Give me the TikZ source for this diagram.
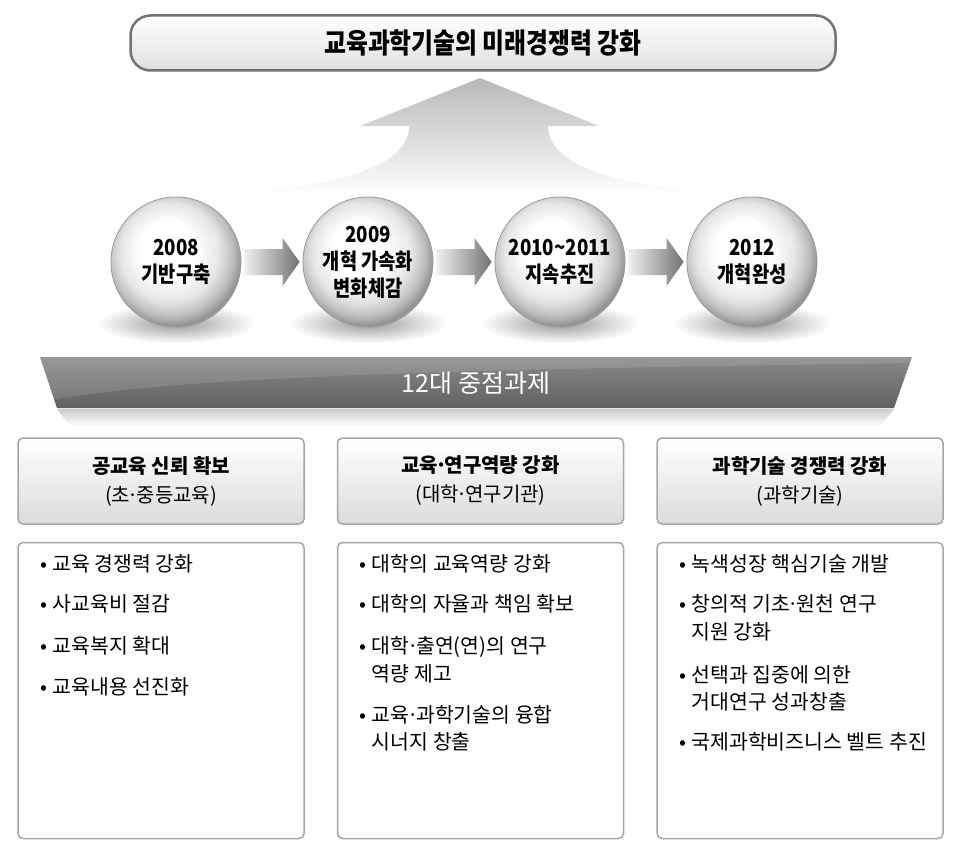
\documentclass[tikz,border=0pt]{standalone}
\usepackage{fontspec}
\setmainfont{Noto Sans CJK KR}
\newfontfamily\condfont[FakeStretch=0.85]{Noto Sans CJK KR}
\usepackage{tikz}
\usetikzlibrary{positioning}
\usetikzlibrary{calc}
\usetikzlibrary{backgrounds}

\pgfdeclareradialshading{sphere}{\pgfpoint{-4bp}{6bp}}{color(0bp)=(white); color(11bp)=(white); color(19bp)=(black!10); color(24bp)=(black!26); color(27bp)=(black!42); color(50bp)=(black!42)}

\newcommand{\flowarrow}[2]{%
  \shade[left color=black!6, right color=black!55]
    ($(#1.east)+(3,-13)$) -- ($(#2.west)+(-20,-13)$) -- ($(#2.west)+(-20,-24)$)
    -- ($(#2.west)+(-3,0)$) -- ($(#2.west)+(-20,24)$) -- ($(#2.west)+(-20,13)$)
    -- ($(#1.east)+(3,13)$) -- cycle;}
\newcommand{\bul}{\makebox[12pt][l]{•}}
\newcommand{\md}{\makebox[.32em][c]{·}}

\begin{document}
\begin{tikzpicture} [
    x=1pt, y=-1pt,                 % pixel grid, y going down
    node distance=17pt and 32pt,   % spacing of the boxes
    ]
% -------------------------------------------------
\tikzset{
  goalbox/.style={draw=black!55, line width=2.5pt, rounded corners=20pt, top color=white, bottom color=black!12, minimum width=705pt, minimum height=55pt, font=\condfont\fontsize{28}{30}\selectfont\bfseries},
  orbnode/.style={circle, on grid, shade, shading=sphere, draw=black!40, line width=0.8pt, minimum size=130pt, inner sep=0pt, align=center, font=\condfont\fontsize{22}{27}\selectfont\bfseries},
  headbox/.style={draw=black!35, line width=1.5pt, rounded corners=5pt, top color=white, bottom color=black!14, minimum width=286pt, minimum height=86pt, align=center, font=\fontsize{20}{29}\selectfont},
  listbox/.style={draw=black!35, line width=1.5pt, rounded corners=5pt, fill=white, minimum width=286pt, minimum height=296pt},
  itemtext/.style={anchor=west, inner sep=0pt, text height=.88em, text depth=.12em, font=\fontsize{20.5}{22}\selectfont},
  bandtext/.style={text=white, font=\fontsize{25}{28}\selectfont},
}
    \useasboundingbox (0,0) rectangle (959,843);

    \node [goalbox] (goal) at (483,43) {교육과학기술의 미래경쟁력 강화};

    % big arrow up to the goal
    \shade [top color=black!28, bottom color=white] (480,78) -- (599,126) -- (548,126)
      .. controls (548,172) and (640,190) .. (757,194) -- (197,194)
      .. controls (320,190) and (409,172) .. (409,126) -- (360,126) -- cycle;

    \node [orbnode] (y2008) at (176,262) {2008\\기반구축};
    \node [orbnode, right=192pt of y2008] (y2009) {2009\\개혁 가속화\\변화체감};
    \node [orbnode, right=192pt of y2009] (y2010) {2010\textasciitilde 2011\\지속추진};
    \node [orbnode, right=192pt of y2010] (y2012) {2012\\개혁완성};

    \begin{pgfonlayer}{background}
      \foreach \n in {y2008,y2009,y2010,y2012}
        \shade [inner color=black!40, outer color=white] ($(\n.south)+(0,-4)$) ellipse [x radius=80, y radius=20];
    \end{pgfonlayer}

    \flowarrow{y2008}{y2009}
    \flowarrow{y2009}{y2010}
    \flowarrow{y2010}{y2012}

    % band of the twelve tasks
    \shade [top color=black!20, bottom color=white] (57,409) -- (894,409) -- (880,426) -- (70,426) -- cycle;
    \shade [top color=black!46, bottom color=black!62] (40,357) -- (912,357) -- (894,408) -- (57,408) -- cycle;
    \fill [white, opacity=0.12] (40,357) -- (912,357) -- (910,363) .. controls (600,368) and (200,372) .. (52,400) -- cycle;
    \node [bandtext] (tasks) at (476,383) {12대 중점과제};

    \node [headbox] (h1) at (161,481) {\textbf{공교육 신뢰 확보}\\(초\md 중등교육)};
    \node [headbox, right=of h1] (h2) {\textbf{교육\md 연구역량 강화}\\(대학\md 연구기관)};
    \node [headbox, right=of h2] (h3) {\textbf{과학기술 경쟁력 강화}\\(과학기술)};

    \node [listbox, below=of h1] (b1) {};
    \node [listbox, below=of h2] (b2) {};
    \node [listbox, below=of h3] (b3) {};

    \node [itemtext] (b1a) at ($(b1.north west)+(23,26)$) {\bul 교육 경쟁력 강화};
    \node [itemtext] (b1b) at ($(b1.north west)+(23,66)$) {\bul 사교육비 절감};
    \node [itemtext] (b1c) at ($(b1.north west)+(23,108)$) {\bul 교육복지 확대};
    \node [itemtext] (b1d) at ($(b1.north west)+(23,149)$) {\bul 교육내용 선진화};

    \node [itemtext] (b2a) at ($(b2.north west)+(23,26)$) {\bul 대학의 교육역량 강화};
    \node [itemtext] (b2b) at ($(b2.north west)+(23,66)$) {\bul 대학의 자율과 책임 확보};
    \node [itemtext] (b2c) at ($(b2.north west)+(23,108)$) {\bul 대학\md 출연(연)의 연구};
    \node [itemtext] (b2c2) at ($(b2.north west)+(35,136)$) {역량 제고};
    \node [itemtext] (b2d) at ($(b2.north west)+(23,177)$) {\bul 교육\md 과학기술의 융합};
    \node [itemtext] (b2d2) at ($(b2.north west)+(35,204)$) {시너지 창출};

    \node [itemtext] (b3a) at ($(b3.north west)+(23,26)$) {\bul 녹색성장 핵심기술 개발};
    \node [itemtext] (b3b) at ($(b3.north west)+(23,66)$) {\bul 창의적 기초\md 원천 연구};
    \node [itemtext] (b3b2) at ($(b3.north west)+(35,94)$) {지원 강화};
    \node [itemtext] (b3c) at ($(b3.north west)+(23,137)$) {\bul 선택과 집중에 의한};
    \node [itemtext] (b3c2) at ($(b3.north west)+(35,164)$) {거대연구 성과창출};
    \node [itemtext] (b3d) at ($(b3.north west)+(23,204)$) {\bul 국제과학비즈니스 벨트 추진};

\end{tikzpicture}
\end{document}
